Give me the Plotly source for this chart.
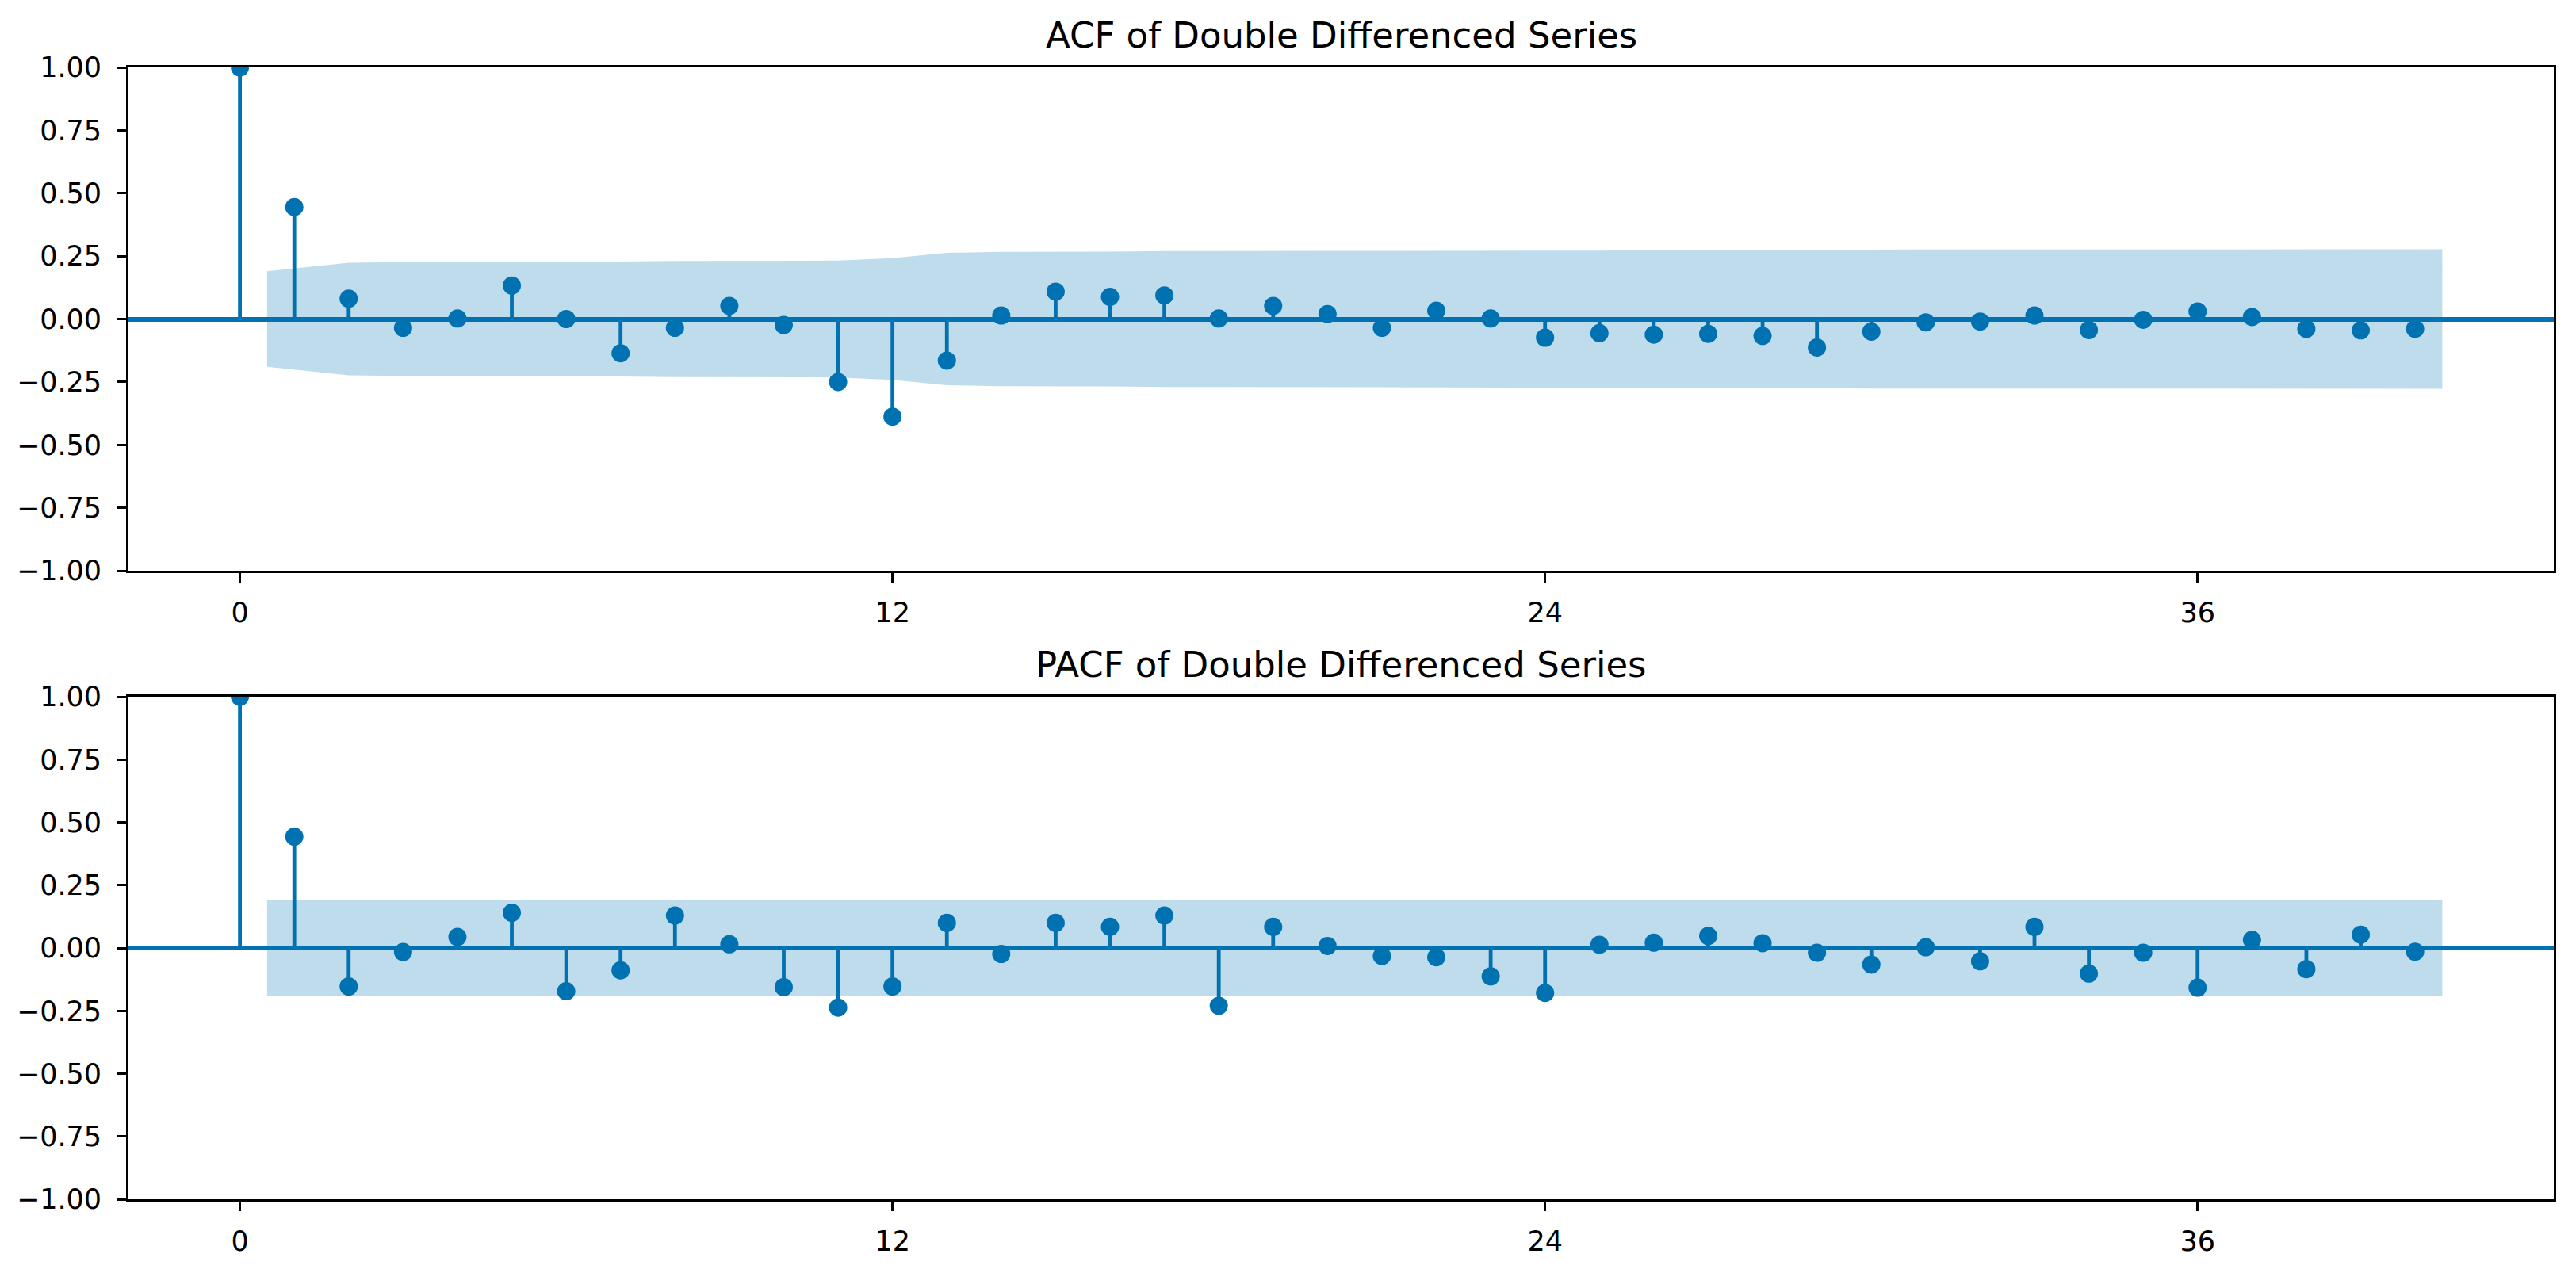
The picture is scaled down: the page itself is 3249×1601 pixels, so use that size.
import plotly.graph_objects as go

# ---------------- data ----------------
lags = list(range(0, 41))

acf_values = [1.000, 0.445, 0.081, -0.035, 0.002, 0.133, 0.000, -0.136, -0.035, 0.052,
              -0.024, -0.250, -0.388, -0.165, 0.014, 0.109, 0.088, 0.094, 0.002, 0.052,
              0.020, -0.035, 0.033, 0.002, -0.074, -0.056, -0.062, -0.059, -0.067, -0.113,
              -0.050, -0.013, -0.010, 0.014, -0.044, -0.003, 0.030, 0.008, -0.039, -0.045,
              -0.039]

pacf_values = [1.000, 0.443, -0.153, -0.016, 0.044, 0.140, -0.172, -0.089, 0.129, 0.015,
               -0.156, -0.237, -0.153, 0.100, -0.024, 0.100, 0.084, 0.129, -0.230, 0.084,
               0.008, -0.032, -0.037, -0.113, -0.179, 0.013, 0.021, 0.048, 0.019, -0.019,
               -0.066, 0.003, -0.053, 0.084, -0.102, -0.019, -0.158, 0.032, -0.084, 0.053,
               -0.015]

# half-width of the confidence band for lags 1..40
acf_band = [0.190, 0.224, 0.226, 0.226, 0.226, 0.228, 0.228, 0.231, 0.232, 0.232,
            0.232, 0.242, 0.263, 0.267, 0.267, 0.268, 0.270, 0.271, 0.271, 0.271,
            0.271, 0.272, 0.272, 0.272, 0.272, 0.273, 0.273, 0.274, 0.274, 0.276,
            0.276, 0.276, 0.276, 0.276, 0.277, 0.277, 0.277, 0.277, 0.277, 0.277]

pacf_band = [0.190, 0.190, 0.190, 0.190, 0.190, 0.190, 0.190, 0.190, 0.190, 0.190,
             0.190, 0.190, 0.190, 0.190, 0.190, 0.190, 0.190, 0.190, 0.190, 0.190,
             0.190, 0.190, 0.190, 0.190, 0.190, 0.190, 0.190, 0.190, 0.190, 0.190,
             0.190, 0.190, 0.190, 0.190, 0.190, 0.190, 0.190, 0.190, 0.190, 0.190]

titles = ["ACF of Double Differenced Series", "PACF of Double Differenced Series"]
x_tickvals = [0, 12, 24, 36]
y_tickvals = [-1.0, -0.75, -0.5, -0.25, 0.0, 0.25, 0.5, 0.75, 1.0]

# ---------------- style ----------------
BLUE = "#0072B2"
FILL = "rgba(0,114,178,0.25)"
FONT = "DejaVu Sans"
# page body has an 8px default margin, so the figure is made 8px smaller
W, H = 3241, 1593
M = dict(l=154, r=28, t=77, b=88)
X_RANGE = [-2.05, 42.55]
plot_h = H - M["t"] - M["b"]
top_domain = [1 - 635 / plot_h, 1.0]
bot_domain = [0.0, 634 / plot_h]

fig = go.Figure()


def add_panel(values, band, xa, ya):
    # confidence band (statsmodels style: first lag -0.5, last lag +0.5)
    bx = [float(v) for v in lags[1:]]
    bx[0] -= 0.5
    bx[-1] += 0.5
    upper = list(band)
    lower = [-b for b in band]
    fig.add_trace(go.Scatter(
        x=bx + bx[::-1], y=upper + lower[::-1], fill="toself", fillcolor=FILL,
        line=dict(width=0), mode="lines", hoverinfo="skip", showlegend=False,
        xaxis=xa, yaxis=ya))
    # stems
    sx, sy = [], []
    for lg, v in zip(lags, values):
        sx += [lg, lg, None]
        sy += [0, v, None]
    fig.add_trace(go.Scatter(
        x=sx, y=sy, mode="lines", line=dict(color=BLUE, width=4.8),
        hoverinfo="skip", showlegend=False, xaxis=xa, yaxis=ya))
    # markers
    fig.add_trace(go.Scatter(
        x=lags, y=values, mode="markers",
        marker=dict(color=BLUE, size=23, line=dict(width=0)),
        showlegend=False, xaxis=xa, yaxis=ya))


add_panel(acf_values, acf_band, "x", "y")
add_panel(pacf_values, pacf_band, "x2", "y2")

axis_common = dict(
    showgrid=False, showline=True, mirror=True, linecolor="black", linewidth=2.7,
    ticks="outside", ticklen=12, tickwidth=2.7, tickcolor="black",
    tickfont=dict(family=FONT, size=35, color="black"),
)

fig.update_layout(
    width=W, height=H, margin=M,
    paper_bgcolor="white", plot_bgcolor="white",
    showlegend=False,
    xaxis=dict(domain=[0, 1], range=X_RANGE, tickmode="array", tickvals=x_tickvals,
               zeroline=False, anchor="y", ticklabelstandoff=8, **axis_common),
    yaxis=dict(domain=top_domain, range=[-1, 1], tickmode="array", tickvals=y_tickvals,
               tickformat=".2f", zeroline=True, zerolinecolor=BLUE, zerolinewidth=5.5,
               anchor="x", ticklabelstandoff=12, **axis_common),
    xaxis2=dict(domain=[0, 1], range=X_RANGE, tickmode="array", tickvals=x_tickvals,
                zeroline=False, anchor="y2", ticklabelstandoff=8, **axis_common),
    yaxis2=dict(domain=bot_domain, range=[-1, 1], tickmode="array", tickvals=y_tickvals,
                tickformat=".2f", zeroline=True, zerolinecolor=BLUE, zerolinewidth=5.5,
                anchor="x2", ticklabelstandoff=12, **axis_common),
)

for title, dom in zip(titles, [top_domain, bot_domain]):
    fig.add_annotation(
        text=title, xref="paper", yref="paper", x=0.5, y=dom[1],
        xanchor="center", yanchor="bottom", yshift=12, showarrow=False,
        font=dict(family=FONT, size=45, color="black"))

fig.write_html("out.html")
